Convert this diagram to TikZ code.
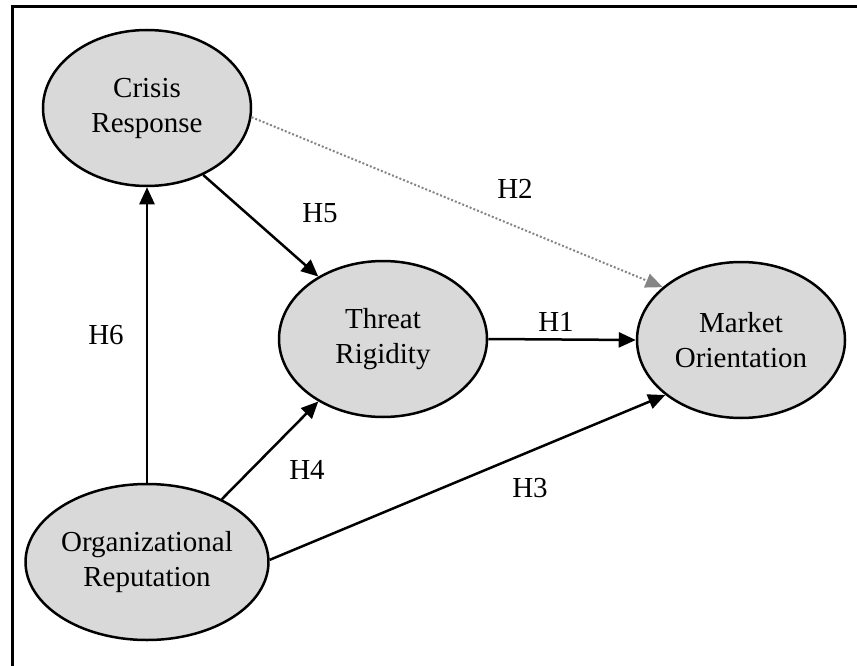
\documentclass[tikz,border=0pt]{standalone}
\usepackage{fontspec}
\setmainfont{Liberation Serif}
\usetikzlibrary{shapes.geometric,arrows.meta}
\definecolor{construct}{HTML}{D9D9D9}
\definecolor{dotgray}{HTML}{858585}
\begin{document}
\begin{tikzpicture}[x=1pt,y=-1pt,
  construct/.style={ellipse,draw=black,line width=2.5pt,fill=construct,
    minimum width=208pt,minimum height=156pt,inner sep=0pt,align=center,
    font=\fontsize{29}{35}\selectfont},
  hyp/.style={font=\fontsize{29}{35}\selectfont,inner sep=0pt},
  path/.style={line width=2.5pt,-{Triangle[length=17pt,width=15pt]}},
  weakpath/.style={line width=2pt,dash pattern=on 2pt off 2pt,draw=dotgray,
    -{Triangle[length=17pt,width=15pt,fill=dotgray,line width=0pt]}}]
  \useasboundingbox (0,0) rectangle (857,666);
  % open frame
  \draw[line width=3pt] (857,7) -- (12,7) -- (12,666);

  % constructs
  \node[construct] (crisis) at (147,108) {Crisis\\Response};
  \node[construct] (org)    at (147,562) {Organizational\\Reputation};
  \node[construct] (threat) at (383,339) {Threat\\Rigidity};
  \node[construct] (market) at (741,340) {Market\\Orientation};

  % hypothesised paths
  \draw[path] (threat.east) -- (market.west);
  \draw[weakpath] (crisis.-5) -- (market.146.6);
  \draw[path] (org.1) -- (market.216.6);
  \draw[path] (org.40.6) -- (threat.224.5);
  \draw[path] (crisis.-50) -- (threat.136);
  \draw[path] (org.north) -- (crisis.south);

  % path labels
  \node[hyp] (h1) at (556,322) {H1};
  \node[hyp] (h2) at (515,189) {H2};
  \node[hyp] (h3) at (530,488) {H3};
  \node[hyp] (h4) at (307,470) {H4};
  \node[hyp] (h5) at (320,213) {H5};
  \node[hyp] (h6) at (106,335) {H6};
\end{tikzpicture}
\end{document}
